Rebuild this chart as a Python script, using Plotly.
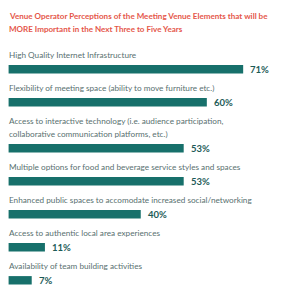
import plotly.graph_objects as go

title_lines = ["Venue Operator Perceptions of the Meeting Venue Elements that will be",
               "MORE Important in the Next Three to Five Years"]
categories = [
    "High Quality Internet Infrastructure",
    "Flexibility of meeting space (ability to move furniture etc.)",
    "Access to interactive technology (i.e. audience participation,<br>collaborative communication platforms, etc.)",
    "Multiple options for food and beverage service styles and spaces",
    "Enhanced public spaces to accomodate increased social/networking",
    "Access to authentic local area experiences",
    "Availability of team building activities",
]
values = [71, 60, 53, 53, 40, 11, 7]
value_labels = [f"{v}%" for v in values]

# layout: vertical slot positions derived from label line counts
first_center = 69.3
slot = 33.0
line_h = 13.0
positions = []
acc = 0.0
for i, c in enumerate(categories):
    acc += line_h * (c.count("<br>"))
    positions.append(first_center + slot * i + acc)

BAR = "#17706b"
LABEL = "#58706f"
VALC = "#1d5a57"
TITLE = "#e5574a"
FONT = "Lato"

fig = go.Figure()
fig.add_trace(go.Bar(
    x=values, y=positions, orientation="h", width=8.4,
    marker=dict(color=BAR, line=dict(width=0)),
    hoverinfo="skip",
))

ann = []
for c, v, p, t in zip(categories, values, positions, value_labels):
    lines = c.split("<br>")
    n = len(lines)
    for k, ln in enumerate(lines):
        cy = p - 14.3 - line_h * (n - 1 - k)
        ann.append(dict(x=0, y=cy, xref="x", yref="y", text=ln, showarrow=False,
                        xanchor="left", yanchor="middle", xshift=-2,
                        font=dict(family=FONT, size=8.2, color=LABEL)))
    ann.append(dict(x=v, y=p, xref="x", yref="y", text=f"<b>{t}</b>", showarrow=False,
                    xanchor="left", yanchor="middle", xshift=5,
                    font=dict(family=FONT, size=9.5, color=VALC)))

for k, ln in enumerate(title_lines):
    ann.append(dict(x=0, y=15.5 + 13 * k, xref="x", yref="y", xanchor="left", yanchor="middle",
                    xshift=-2, showarrow=False, text=f"<b>{ln}</b>",
                    font=dict(family=FONT, size=8.05, color=TITLE)))

fig.update_layout(
    width=300, height=300,
    margin=dict(l=0, r=0, t=0, b=0),
    paper_bgcolor="white", plot_bgcolor="white",
    showlegend=False,
    xaxis=dict(range=[-2.6, 88.2], visible=False, fixedrange=True),
    yaxis=dict(range=[300, 0], visible=False, fixedrange=True),
    annotations=ann,
)
fig.write_html("out.html", config={"displayModeBar": False})
